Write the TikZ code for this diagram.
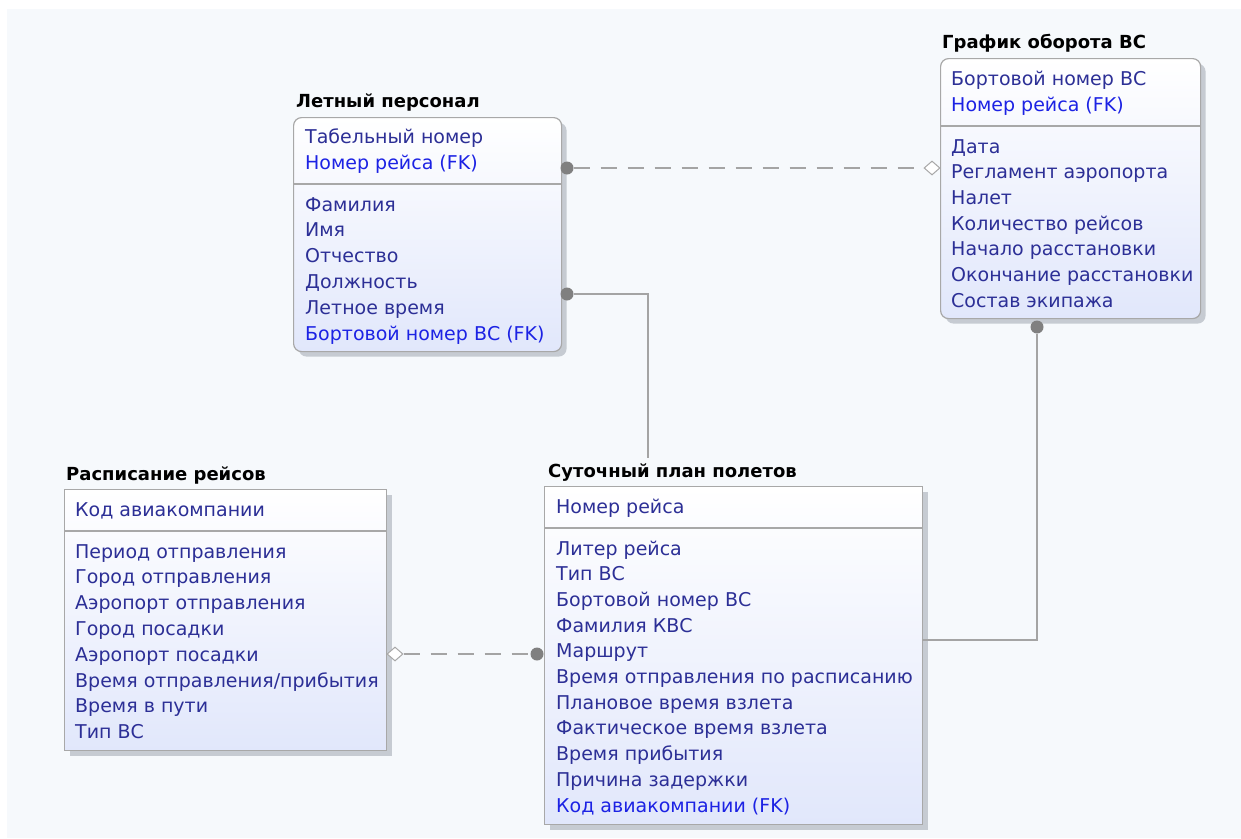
\documentclass[tikz,border=0pt]{standalone}
\usepackage{fontspec}
\setmainfont{DejaVu Sans}
\usetikzlibrary{shapes.geometric,shadows}

\definecolor{bgpaper}{HTML}{F6F9FC}
\definecolor{attrblue}{HTML}{2C2F96}
\definecolor{fkblue}{HTML}{1C22E4}
\definecolor{boxline}{HTML}{A8A8A8}
\definecolor{boxfill}{HTML}{E1E7FB}
\definecolor{shadowgray}{HTML}{C6CBD2}
\definecolor{linkgray}{HTML}{A4A4A4}
\definecolor{dotgray}{HTML}{808080}

\tikzset{
  entbox/.style={draw=boxline, line width=1.2pt, top color=white, bottom color=boxfill,
    anchor=north west, inner sep=0pt,
    drop shadow={shadow xshift=5pt, shadow yshift=-5pt, fill=shadowgray, opacity=1}},
  enttitle/.style={anchor=base west, inner sep=0pt, text=black,
    font=\bfseries\fontsize{18}{18}\selectfont},
  attr/.style={anchor=base west, inner sep=0pt, text=attrblue,
    font=\fontsize{19}{19}\selectfont},
  fkattr/.style={attr, text=fkblue},
  divider/.style={draw=boxline, line width=1.2pt},
  link/.style={draw=linkgray, line width=1.2pt},
  idlink/.style={link, dash pattern=on 16pt off 11pt},
  dotend/.style={circle, fill=dotgray, minimum size=13pt, inner sep=0pt},
  diamend/.style={diamond, draw=boxline, line width=1pt, fill=white, inner sep=0pt,
    minimum width=16pt, minimum height=14pt}
}

\begin{document}
\begin{tikzpicture}[x=1pt,y=-1pt]
  %BACKGROUND
  \useasboundingbox (0,0) rectangle (1241,838);
  \fill[bgpaper] (7,9) rectangle (1241,838);

  %LETNYJ PERSONAL
  \node[entbox, rounded corners=8pt, minimum width=268pt, minimum height=234pt] (lpbox) at (293,117) {};
  \node[enttitle] (lptitle) at (296,107) {Летный персонал};
  \draw[divider] (lpbox.west |- 0,184) -- (lpbox.east |- 0,184);
  \node[attr] (lp-k1) at (305,143) {Табельный номер};
  \node[fkattr] (lp-k2) at (305,169) {Номер рейса (FK)};
  \foreach \t [count=\i] in {Фамилия,Имя,Отчество,Должность,Летное время}
    \node[attr] (lp-a\i) at (305,{211+25.8*(\i-1)}) {\t};
  \node[fkattr] (lp-a6) at (305,340) {Бортовой номер ВС (FK)};

  %GRAFIK OBOROTA
  \node[entbox, rounded corners=8pt, minimum width=260pt, minimum height=260pt] (gbbox) at (940,58) {};
  \node[enttitle] (gbtitle) at (942,48) {График оборота ВС};
  \draw[divider] (gbbox.west |- 0,126) -- (gbbox.east |- 0,126);
  \node[attr] (gb-k1) at (951,85) {Бортовой номер ВС};
  \node[fkattr] (gb-k2) at (951,111) {Номер рейса (FK)};
  \foreach \t [count=\i] in {Дата,Регламент аэропорта,Налет,Количество рейсов,
      Начало расстановки,Окончание расстановки,Состав экипажа}
    \node[attr] (gb-a\i) at (951,{153+25.7*(\i-1)}) {\t};

  %RASPISANIE
  \node[entbox, minimum width=322pt, minimum height=261pt] (rrbox) at (64,489) {};
  \node[enttitle] (rrtitle) at (66,480) {Расписание рейсов};
  \draw[divider] (rrbox.west |- 0,531) -- (rrbox.east |- 0,531);
  \node[attr] (rr-k1) at (75,516) {Код авиакомпании};
  \foreach \t [count=\i] in {Период отправления,Город отправления,Аэропорт отправления,
      Город посадки,Аэропорт посадки,{Время отправления/прибытия},Время в пути,Тип ВС}
    \node[attr] (rr-a\i) at (75,{558+25.8*(\i-1)}) {\t};

  %SUTOCHNYJ PLAN
  \node[entbox, minimum width=378pt, minimum height=338pt] (spbox) at (544,486) {};
  \node[enttitle] (sptitle) at (548,477) {Суточный план полетов};
  \draw[divider] (spbox.west |- 0,528) -- (spbox.east |- 0,528);
  \node[attr] (sp-k1) at (556,513) {Номер рейса};
  \foreach \t [count=\i] in {Литер рейса,Тип ВС,Бортовой номер ВС,Фамилия КВС,Маршрут,
      Время отправления по расписанию,Плановое время взлета,Фактическое время взлета,
      Время прибытия,Причина задержки}
    \node[attr] (sp-a\i) at (556,{555+25.7*(\i-1)}) {\t};
  \node[fkattr] (sp-a11) at (556,812) {Код авиакомпании (FK)};

  %LINKS
  \node[dotend] (lpdot1) at (567,168) {};
  \node[diamend] (gbdiam) at (932,168) {};
  \draw[idlink] (lpdot1) -- (gbdiam);

  \node[dotend] (lpdot2) at (567,294) {};
  \coordinate (sptop) at (648,458);
  \draw[link] (lpdot2) -| (sptop);

  \node[dotend] (gbdot) at (1037,327) {};
  \coordinate (spright) at (922,640);
  \draw[link] (gbdot) |- (spright);

  \node[diamend] (rrdiam) at (395,654) {};
  \node[dotend] (spdot) at (537,654) {};
  \draw[idlink] (rrdiam) -- (spdot);
\end{tikzpicture}
\end{document}
